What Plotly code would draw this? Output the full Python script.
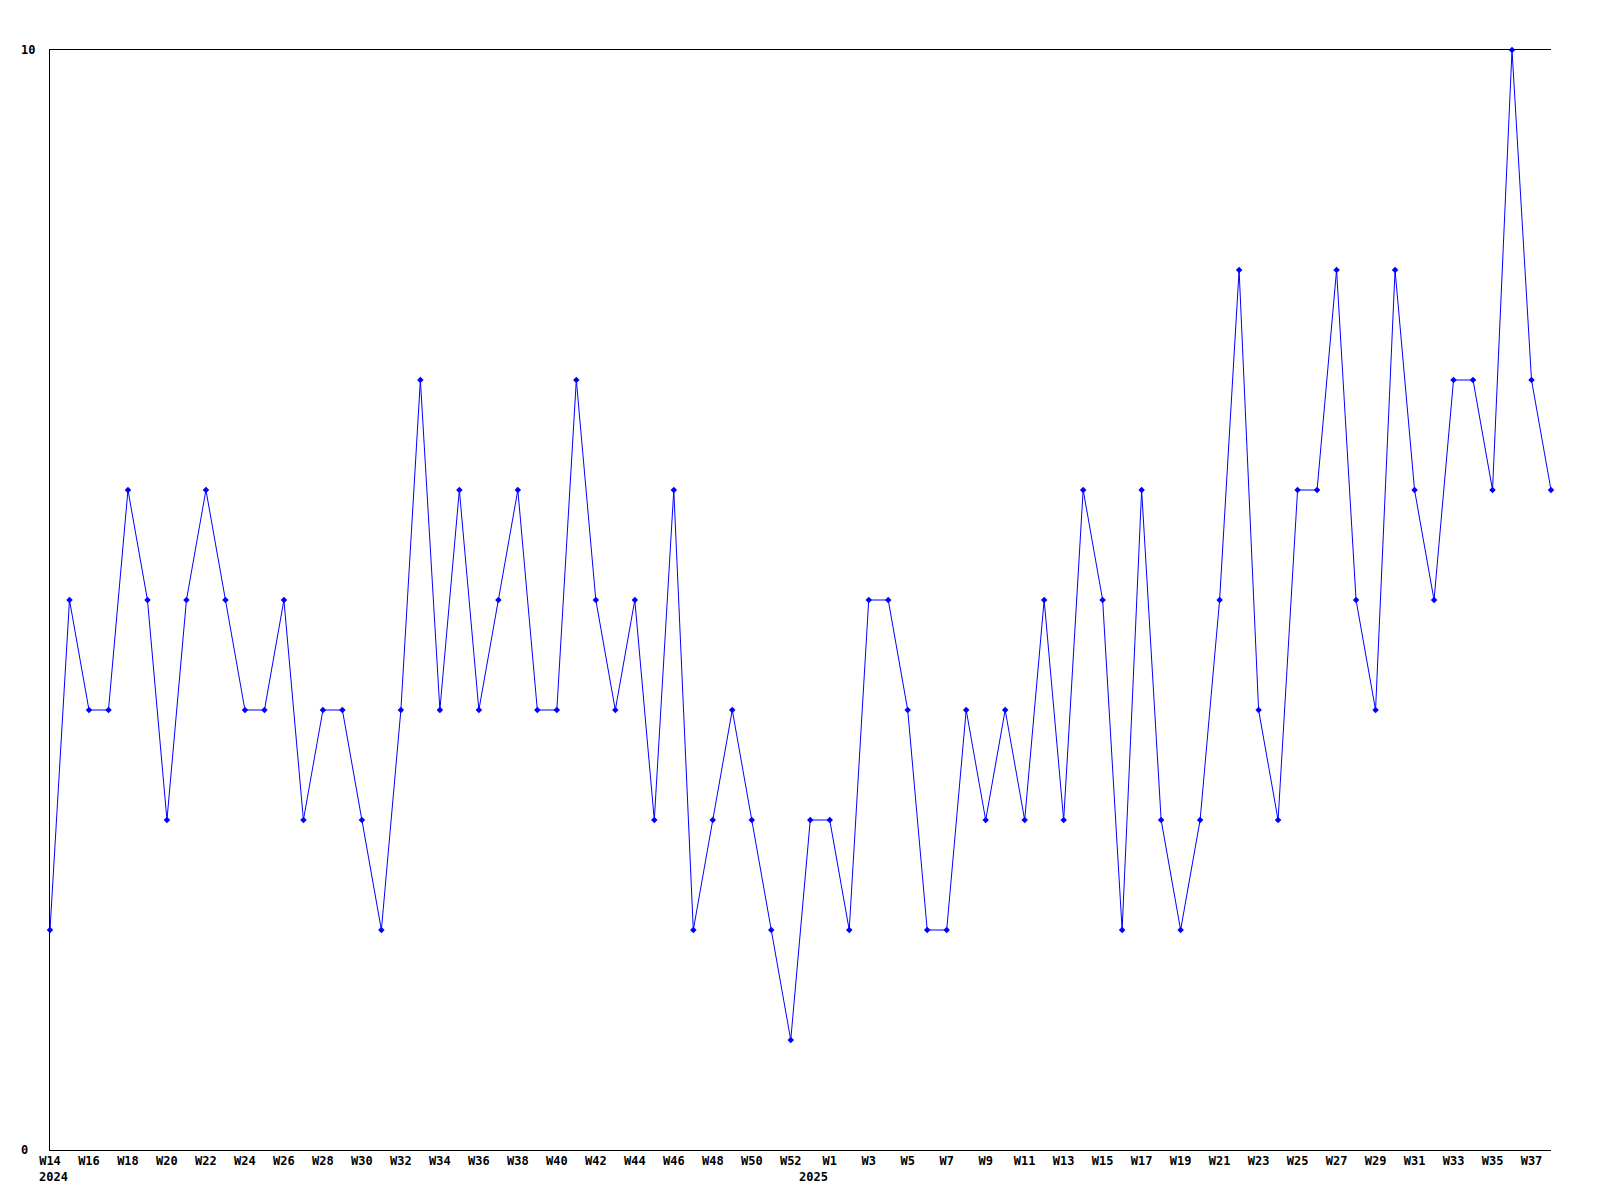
import plotly.graph_objects as go

weeks_2024 = [f"W{w}" for w in range(14, 54)]
weeks_2025 = [f"W{w}" for w in range(1, 39)]
values_2024 = [2, 5, 4, 4, 6, 5, 3, 5, 6, 5,
               4, 4, 5, 3, 4, 4, 3, 2, 4, 7,
               4, 6, 4, 5, 6, 4, 4, 7, 5, 4,
               5, 3, 6, 2, 3, 4, 3, 2, 1, 3]
values_2025 = [3, 2, 5, 5, 4, 2, 2, 4, 3, 4,
               3, 5, 3, 6, 5, 2, 6, 3, 2, 3,
               5, 8, 4, 3, 6, 6, 8, 5, 4, 8,
               6, 5, 7, 7, 6, 10, 7, 6]
year_labels = ["2024", "2025"]
y_tick_labels = ["0", "10"]

weeks = weeks_2024 + weeks_2025
values = values_2024 + values_2025
xs = list(range(len(weeks)))

FONT = dict(family="DejaVu Sans Mono", size=12, color="black")

fig = go.Figure()
fig.add_trace(go.Scatter(
    x=xs, y=values, mode="lines+markers",
    line=dict(color="#0000ff", width=1),
    marker=dict(symbol="diamond", size=5, color="#0000ff"),
    cliponaxis=False, hoverinfo="x+y",
))

tickvals = xs[::2]
ticktext = [f"<b>{weeks[i]}</b>" for i in tickvals]

fig.update_xaxes(range=[0, len(weeks) - 1], tickvals=tickvals, ticktext=ticktext,
                 showgrid=False, zeroline=False, showline=True, linecolor="black",
                 linewidth=1, mirror=True, ticks="", tickfont=FONT, tickangle=0)
fig.update_yaxes(range=[0, 10], showticklabels=False, showgrid=False, zeroline=False,
                 showline=True, linecolor="black", linewidth=1, mirror=False, ticks="")

ann = []
# year labels under first week of each year block
for lbl, idx in zip(year_labels, [0, len(weeks_2024) - 1]):
    ann.append(dict(x=idx + 0.18, y=0, xref="x", yref="y", text=f"<b>{lbl}</b>",
                    showarrow=False, font=FONT, xanchor="center", yanchor="middle",
                    yshift=-27))
for lbl, yv in zip(y_tick_labels, [0, 10]):
    ann.append(dict(x=0, y=yv, xref="paper", yref="y", text=f"<b>{lbl}</b>",
                    showarrow=False, font=FONT, xanchor="left", yanchor="middle",
                    xshift=-31))
fig.update_layout(
    width=1600, height=1200,
    margin=dict(l=42, r=57, t=42, b=58),
    paper_bgcolor="white", plot_bgcolor="white",
    showlegend=False, annotations=ann,
)

fig.write_html("out.html")
